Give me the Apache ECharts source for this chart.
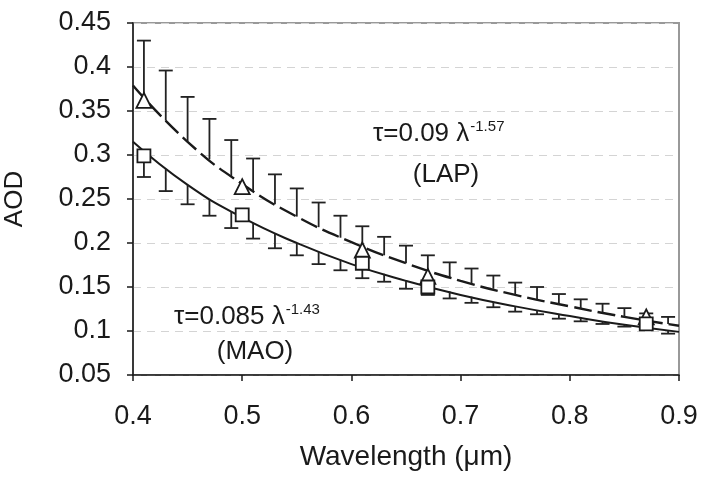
<!DOCTYPE html>
<html>
<head>
<meta charset="utf-8">
<script src="https://cdn.jsdelivr.net/npm/echarts@6/dist/echarts.min.js"></script>
<style>
  html, body { margin: 0; padding: 0; background: #fff; }
  #main { width: 707px; height: 477px; }
</style>
</head>
<body>
<div id="main"></div>
<script>
// fitted curves
var fitX   = [0.40, 0.45, 0.50, 0.55, 0.60, 0.65, 0.70, 0.75, 0.80, 0.85, 0.90];
var lapFit = [0.379, 0.315, 0.267, 0.230, 0.201, 0.177, 0.157, 0.141, 0.128, 0.116, 0.106];
var maoFit = [0.315, 0.266, 0.229, 0.200, 0.176, 0.157, 0.141, 0.128, 0.117, 0.107, 0.099];

// error bars: LAP goes up from its curve, MAO goes down from its curve
var errX   = [0.41, 0.43, 0.45, 0.47, 0.49, 0.51, 0.53, 0.55, 0.57, 0.59, 0.61, 0.63, 0.65,
              0.67, 0.69, 0.71, 0.73, 0.75, 0.77, 0.79, 0.81, 0.83, 0.85, 0.87, 0.89];
var lapMid = [0.365, 0.339, 0.315, 0.295, 0.276, 0.259, 0.244, 0.230, 0.218, 0.206, 0.196, 0.186, 0.177,
              0.169, 0.161, 0.154, 0.148, 0.141, 0.136, 0.130, 0.125, 0.121, 0.116, 0.112, 0.108];
var lapTop = [0.430, 0.396, 0.366, 0.341, 0.317, 0.296, 0.278, 0.262, 0.246, 0.231, 0.219, 0.207, 0.197,
              0.186, 0.178, 0.171, 0.163, 0.155, 0.150, 0.142, 0.136, 0.131, 0.126, 0.120, 0.116];
var maoMid = [0.304, 0.284, 0.266, 0.250, 0.236, 0.223, 0.211, 0.200, 0.190, 0.181, 0.172, 0.165, 0.157,
              0.151, 0.145, 0.139, 0.133, 0.128, 0.124, 0.119, 0.115, 0.111, 0.107, 0.104, 0.100];
var maoLow = [0.275, 0.259, 0.244, 0.231, 0.217, 0.205, 0.194, 0.186, 0.176, 0.169, 0.160, 0.156, 0.148,
              0.141, 0.137, 0.132, 0.127, 0.122, 0.119, 0.114, 0.111, 0.108, 0.105, 0.102, 0.097];

// measured points
var obsX   = [0.41, 0.50, 0.61, 0.67, 0.87];
var lapObs = [0.362, 0.264, 0.192, 0.162, 0.116];
var maoObs = [0.299, 0.232, 0.177, 0.150, 0.108];

var FONT = '"Liberation Sans", Arial, sans-serif';
var INK = '#1a1a1a';

function pairs(xs, ys) {
    var out = [];
    for (var i = 0; i < xs.length; i++) out.push([xs[i], ys[i]]);
    return out;
}
function triples(xs, a, b) {
    var out = [];
    for (var i = 0; i < xs.length; i++) out.push([xs[i], a[i], b[i]]);
    return out;
}

function renderErr(params, api) {
    var p0 = api.coord([api.value(0), api.value(1)]);
    var p1 = api.coord([api.value(0), api.value(2)]);
    var w = 7;
    var st = { stroke: '#222', lineWidth: 1.8 };
    return {
        type: 'group',
        children: [
            { type: 'line', shape: { x1: p0[0], y1: p0[1], x2: p1[0], y2: p1[1] }, style: st },
            { type: 'line', shape: { x1: p1[0] - w, y1: p1[1], x2: p1[0] + w, y2: p1[1] }, style: st }
        ]
    };
}

// annotation: formula with a raised exponent, then the site name below it
function note(x, y, main, sup, name, nameX, nameDy) {
    return [
        { type: 'text', x: x, y: y, z: 10,
          style: {
              text: '{m|' + main + '}{s|' + sup + '}',
              align: 'left', verticalAlign: 'bottom',
              rich: {
                  m: { fontFamily: FONT, fontSize: 26, fill: INK },
                  s: { fontFamily: FONT, fontSize: 15, fill: INK, padding: [0, 0, 14, 1] }
              }
          } },
        { type: 'text', x: nameX, y: y + nameDy, z: 10,
          style: { text: name, fontFamily: FONT, fontSize: 26, fill: INK, align: 'center', verticalAlign: 'middle' } }
    ];
}

var option = {
    animation: false,
    grid: {
        left: 133, right: 28, top: 23, bottom: 102,
        outerBoundsMode: 'none', containLabel: false,
        show: true, borderColor: '#999', borderWidth: 2
    },
    xAxis: {
        type: 'value', min: 0.4, max: 0.9, interval: 0.1,
        name: 'Wavelength (μm)', nameLocation: 'middle', nameGap: 68,
        nameTextStyle: { fontFamily: FONT, fontSize: 28, color: INK },
        axisLine: { show: true, lineStyle: { color: INK, width: 1.5 } },
        axisTick: { show: true, inside: false, length: 6, lineStyle: { color: INK, width: 1.5 } },
        axisLabel: { fontFamily: FONT, fontSize: 27, color: INK, margin: 28 },
        splitLine: { show: false }
    },
    yAxis: {
        type: 'value', min: 0.05, max: 0.45, interval: 0.05,
        name: 'AOD', nameLocation: 'middle', nameGap: 105, nameRotate: 90,
        nameTextStyle: { fontFamily: FONT, fontSize: 26, color: INK },
        axisLine: { show: true, lineStyle: { color: INK, width: 1.5 } },
        axisTick: { show: true, inside: false, length: 6, lineStyle: { color: INK, width: 1.5 } },
        axisLabel: { fontFamily: FONT, fontSize: 27, color: INK, margin: 22 },
        splitLine: { show: true, lineStyle: { color: '#d4d4d4', width: 1.2, type: [8, 6] } }
    },
    graphic: [].concat(
        note(373, 148, 'τ=0.09 λ', '-1.57', '(LAP)', 446, 27),
        note(174, 331, 'τ=0.085 λ', '-1.43', '(MAO)', 255, 21)
    ),
    series: [
        {
            name: 'LAP fit', type: 'line', smooth: true, showSymbol: false,
            data: pairs(fitX, lapFit),
            lineStyle: { color: INK, width: 2.4, type: [18, 6] }, z: 3
        },
        {
            name: 'MAO fit', type: 'line', smooth: true, showSymbol: false,
            data: pairs(fitX, maoFit),
            lineStyle: { color: INK, width: 2, type: 'solid' }, z: 3
        },
        {
            name: 'LAP err', type: 'custom', renderItem: renderErr,
            data: triples(errX, lapMid, lapTop), z: 4
        },
        {
            name: 'MAO err', type: 'custom', renderItem: renderErr,
            data: triples(errX, maoMid, maoLow), z: 4
        },
        {
            name: 'LAP', type: 'scatter', symbol: 'triangle', symbolSize: [15, 15],
            data: pairs(obsX, lapObs),
            itemStyle: { color: '#fff', borderColor: INK, borderWidth: 1.8, opacity: 1 }, z: 6
        },
        {
            name: 'MAO', type: 'scatter', symbol: 'rect', symbolSize: 13,
            data: pairs(obsX, maoObs),
            itemStyle: { color: '#fff', borderColor: INK, borderWidth: 1.8, opacity: 1 }, z: 6
        }
    ]
};

var chart = echarts.init(document.getElementById('main'));
chart.setOption(option);
</script>
</body>
</html>
